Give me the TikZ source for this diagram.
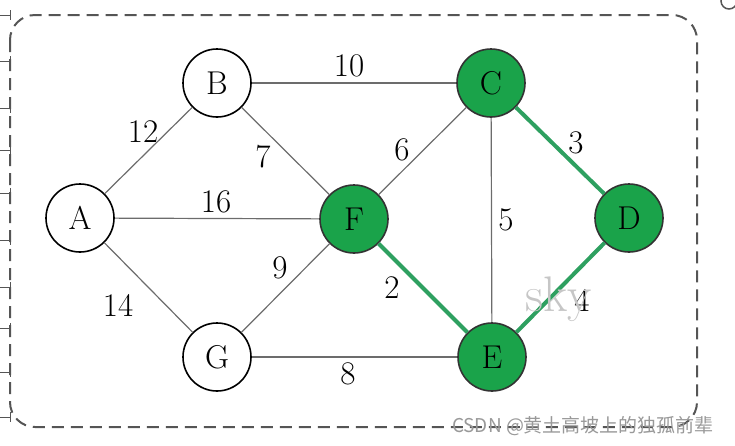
\documentclass[tikz,border=0pt]{standalone}
\usepackage{fontspec}
\newfontfamily\cjk{Noto Sans CJK SC}
\usetikzlibrary{calc}
\definecolor{vertc}{RGB}{26,163,74}
\definecolor{vertl}{RGB}{46,160,96}
\definecolor{gris}{RGB}{85,85,85}
\tikzset{
    sommet/.style={circle,draw,line width=1.6pt,minimum size=68pt,inner sep=0pt,fill=white,
      font=\fontsize{33}{35}\selectfont},
    choisi/.style={sommet,fill=vertc,draw=black!80},
    arete/.style={draw=gray!85!black,line width=1.2pt},
    arbre/.style={draw=vertl,line width=4pt},
    poids/.style={font=\fontsize{33}{35}\selectfont,inner sep=0pt},
    cadre/.style={draw=gris,line width=2pt,dash pattern=on 12pt off 7pt,rounded corners=25pt},
  }
\begin{document}
\begin{tikzpicture}[x=1pt,y=-1pt]
				  %cadre et marges
				  \useasboundingbox (0,0) rectangle (735,445);
				  \draw[cadre] (10,15) rectangle (697,427);
				  \foreach \y in {15,61,108,150,193,240,287,328,372,417}
				    \draw[gris,line width=1pt] (0,\y) -- (10,\y) (10,\y-5) -- (10,\y+5);
				  \begin{scope}
				    \clip (0,0) rectangle (735,445);
				    \draw[gris,line width=1.5pt] (729,1) circle (8);
				  \end{scope}
				  %sommets
				  \node[sommet] (A) at (80,218) {A};
				  \node[sommet] (B) at (217,83) {B};
				  \node[choisi] (C) at (491,83) {C};
				  \node[choisi] (D) at (629,218) {D};
				  \node[choisi] (E) at (492,357) {E};
				  \node[choisi] (F) at (354,219) {F};
				  \node[sommet] (G) at (217,357) {G};
				  %aretes
				  \draw[arete] (A) -- (B);
				  \draw[arete] (A) -- (F);
				  \draw[arete] (A) -- (G);
				  \draw[arete] (B) -- (C);
				  \draw[arete] (B) -- (F);
				  \draw[arete] (G) -- (F);
				  \draw[arete] (G) -- (E);
				  \draw[arete] (F) -- (C);
				  \draw[arete] (C) -- (E);
				  \draw[arbre] (C) -- (D);
				  \draw[arbre] (D) -- (E);
				  \draw[arbre] (F) -- (E);
				  %poids
				  \node[poids] (p12) at (143,132) {12};
				  \node[poids] (p10) at (349,66) {10};
				  \node[poids] (p7) at (263,157) {7};
				  \node[poids] (p16) at (216,202) {16};
				  \node[poids] (p6) at (402,150) {6};
				  \node[poids] (p3) at (576,143) {3};
				  \node[poids] (p5) at (506,220) {5};
				  \node[poids] (p9) at (280,268) {9};
				  \node[poids] (p2) at (392,288) {2};
				  \node[poids] (p14) at (118,305) {14};
				  \node[poids] (p4) at (582,300) {4};
				  \node[poids] (p8) at (348,374) {8};
				  %filigranes
				  \node[text=gray!45,font=\fontsize{50}{52}\selectfont] (sky) at (559,299) {sky};
				  \node[text=gray!80,font=\fontsize{19}{21}\cjk] (csdn) at (583,426) {CSDN @黄土高坡上的独孤前辈};
				  \end{tikzpicture}
\end{document}
